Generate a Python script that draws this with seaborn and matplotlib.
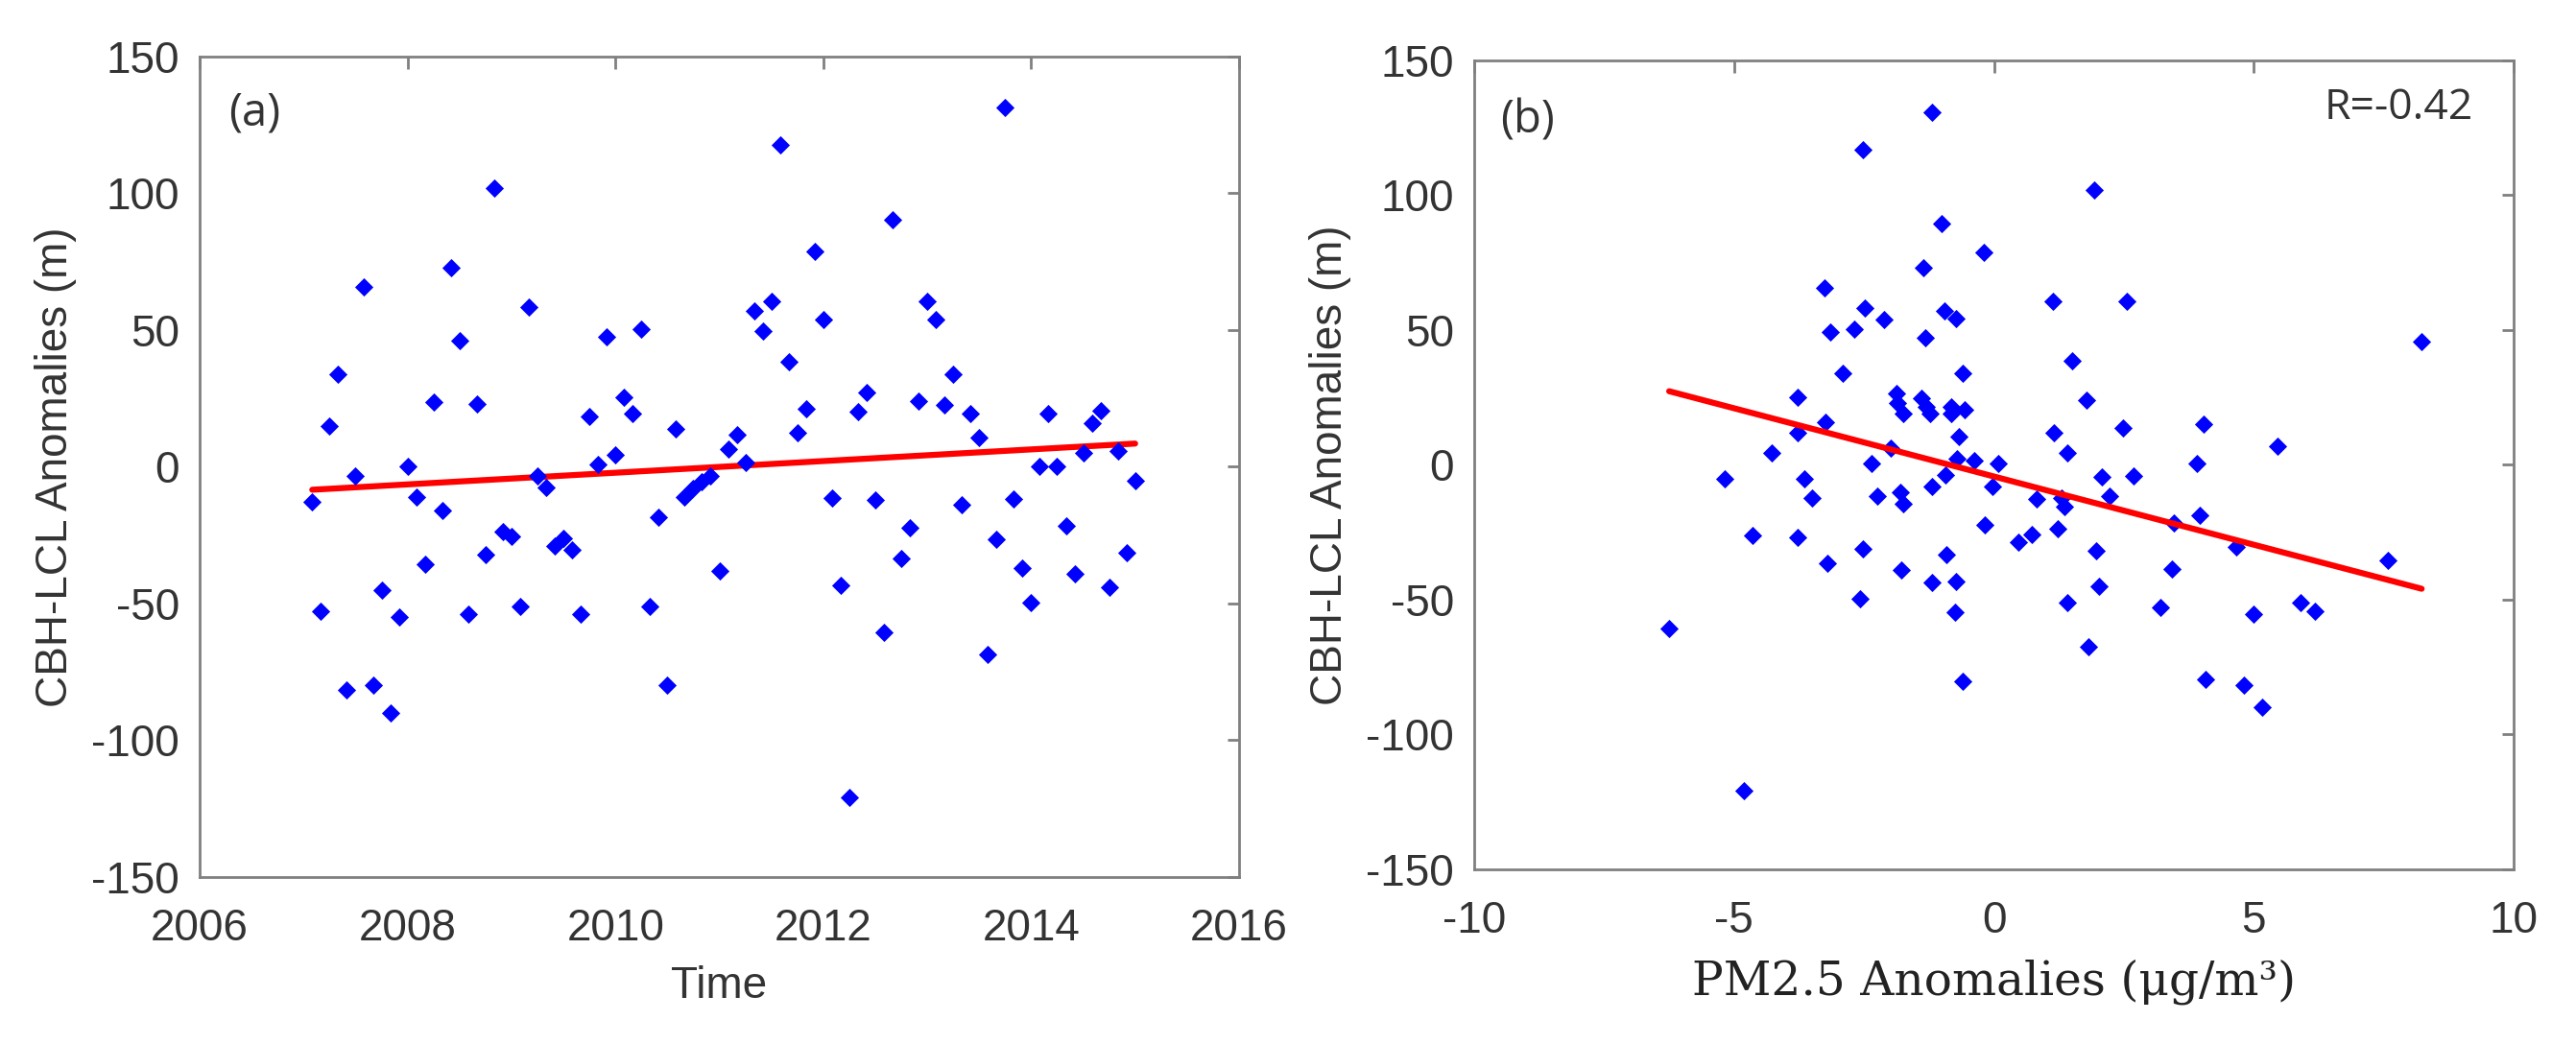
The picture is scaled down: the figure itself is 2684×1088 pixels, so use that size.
import matplotlib
matplotlib.use("Agg")
import numpy as np
import pandas as pd
import matplotlib.pyplot as plt
import seaborn as sns

# -------------------- Data --------------------
# (a) monthly CBH-LCL anomalies, Jan 2007 - Dec 2014
months = pd.date_range("2007-01-01", "2014-12-01", freq="MS")
cbh_a = [-13, -52.7, 15, 34, -81.6, -3.3, 65.8, -80, -45, -90, -55, 0,
         -11, -35.5, 23.7, -16, 72.8, 46, -54, 23, -32, 102, -23.6, -25.6,
         -51, 58.5, -3.5, -7.7, -29, -26, -30.5, -54, 18.5, 1, 47.5, 4.2,
         25.4, 19.6, 50.5, -51, -18.6, -80, 13.7, -11, -8, -5.4, -3.5, -38,
         6.4, 11.8, 1.6, 57, 49.7, 60.6, 117.8, 38.4, 12.3, 21.3, 78.9, 54,
         -11.4, -43.5, -121, 20, 27, -12, -60.5, 90.4, -33.7, -22.4, 24, 60.6,
         54, 22.7, 34, -14, 19.6, 10.8, -68.5, -26.4, 131.5, -11.6, -36.9, -49.8,
         0, 19.6, 0, -21.7, -39, 5, 16, 20.5, -44, 5.7, -31.4, -5]

# (b) CBH-LCL anomalies vs PM2.5 anomalies
pm25 = [-6.25, -5.19, -4.81, -4.64, -4.27, -3.78, -3.78, -3.78, -3.64, -3.5,
        -3.26, -3.24, -3.2, -3.15, -2.91, -2.69, -2.58, -2.53, -2.53, -2.48,
        -2.36, -2.25, -2.12, -1.98, -1.87, -1.86, -1.75, -1.80, -1.75, -1.79,
        -1.40, -1.33, -1.35, -1.31, -1.22, -1.2, -1.19, -1.2, -1.0, -0.95,
        -0.94, -0.92, -0.83, -0.83, -0.74, -0.73, -0.73, -0.68, -0.60, -0.57,
        -0.6, -0.71, -0.38, 0.08, -0.19, -0.18, -0.02, 0.47, 0.72, 0.82,
        1.14, 1.15, 1.23, 1.3, 1.36, 1.41, 1.42, 1.5, 1.79, 1.82,
        1.93, 1.96, 2.03, 2.07, 2.22, 2.48, 2.55, 2.69, 3.2, 3.43,
        3.46, 3.91, 3.96, 4.04, 4.08, 4.67, 4.81, 5.0, 5.16, 5.46,
        5.9, 6.17, 7.58, 8.23]
cbh_b = [-60.6, -5.3, -120.9, -26.1, 4.6, 25, 12, -27, -5.3, -12.2,
         65.7, 16, -36.5, 49.3, 34, 50.3, -49.6, -31.3, 116.9, 58.2,
         0.4, -11.5, 53.8, 6.3, 26.5, 22.9, 19.1, -10.2, -14.4, -39.1,
         24.6, 47, 73, 21.5, 19.1, 130.7, -7.9, -43.7, 89.6, 57,
         -3.7, -33.2, 21.5, 19.1, -54.8, 54.1, -43.2, 10.5, 34, 20.4,
         -80.3, 2.3, 1.6, 0.5, 79, -22.1, -7.9, -28.7, -25.7, -12.8,
         60.7, 12, -23.5, -12.4, -15.4, -51, 4.6, 38.5, 23.9, -67.6,
         102, -31.8, -45.2, -4.6, -11.5, 13.7, 60.5, -4.1, -53, -38.7,
         -21.4, 0.4, -18.7, 15.2, -79.6, -30.6, -81.8, -55.4, -89.9, 7.1,
         -50.9, -54.1, -35.5, 45.8]
r_text = "R=-0.42"
# fit line of panel (b) as drawn in the original (slope, intercept)
fit_b_slope = -5.06
fit_b_intercept = -4.3

year_ticks = [2006, 2008, 2010, 2012, 2014, 2016]
pm_ticks = [-10, -5, 0, 5, 10]
y_ticks = [-150, -100, -50, 0, 50, 100, 150]

# -------------------- Style --------------------
sns.set_style("white")
plt.rcParams["font.family"] = ["Liberation Sans", "DejaVu Sans"]
plt.rcParams["axes.unicode_minus"] = False

TXT = "#333333"
EDGE = "#808080"


def style_axes(ax):
    for sp in ax.spines.values():
        sp.set_visible(True)
        sp.set_color(EDGE)
        sp.set_linewidth(2)
    ax.tick_params(direction="in", length=9, width=2, color=EDGE,
                   top=True, right=True, labelsize=33, labelcolor=TXT)
    ax.tick_params(axis="x", pad=23)
    ax.tick_params(axis="y", pad=15)
    ax.set_ylim(-150, 150)
    ax.set_yticks(y_ticks, labels=[str(t) for t in y_ticks])
    ax.set_ylabel("CBH-LCL Anomalies (m)", fontsize=33, color=TXT)
    ax.yaxis.set_label_coords(-0.118, 0.5)


fig = plt.figure(figsize=(26.84, 10.88), dpi=100)
ax1 = fig.add_axes([0.0775, 0.160, 0.4035, 0.7858])
ax2 = fig.add_axes([0.5723, 0.1673, 0.4035, 0.7748])

# -------------------- (a) time series --------------------
df_a = pd.DataFrame({"Time": months.year + months.month / 12.0, "CBH": cbh_a})
sns.scatterplot(data=df_a, x="Time", y="CBH", marker="D", s=95,
                color="#0000ff", linewidth=0, ax=ax1, zorder=3)
sns.regplot(data=df_a, x="Time", y="CBH", scatter=False, ci=None,
            color="#ff0000", line_kws={"lw": 4.5, "zorder": 2}, ax=ax1)
style_axes(ax1)
ax1.set_xlim(2006, 2016)
ax1.set_xticks(year_ticks, labels=[str(t) for t in year_ticks])
ax1.set_xlabel("Time", fontsize=33, color=TXT)
ax1.xaxis.set_label_coords(0.5, -0.108)
ax1.text(0.028, 0.931, "(a)", transform=ax1.transAxes, ha="left", va="center",
         fontsize=34, family=["Open Sans", "DejaVu Sans"], color=TXT)

# -------------------- (b) scatter vs PM2.5 --------------------
df_b = pd.DataFrame({"PM25": pm25, "CBH": cbh_b})
sns.scatterplot(data=df_b, x="PM25", y="CBH", marker="D", s=95,
                color="#0000ff", linewidth=0, ax=ax2, zorder=3)
x_end = np.array([df_b["PM25"].min(), df_b["PM25"].max()])
fit_df = pd.DataFrame({"PM25": x_end, "CBH": fit_b_intercept + fit_b_slope * x_end})
sns.lineplot(data=fit_df, x="PM25", y="CBH", color="#ff0000", lw=4.5,
             ax=ax2, zorder=4)
style_axes(ax2)
ax2.set_xlim(-10, 10)
ax2.set_xticks(pm_ticks, labels=[str(t) for t in pm_ticks])
ax2.set_xlabel("PM2.5 Anomalies (μg/m³)", fontsize=35, color="#222222",
               family=["DejaVu Serif", "DejaVu Sans"])
ax2.xaxis.set_label_coords(0.5, -0.111)
ax2.text(0.025, 0.926, "(b)", transform=ax2.transAxes, ha="left", va="center",
         fontsize=34, family=["Open Sans", "DejaVu Sans"], color=TXT)
ax2.text(0.961, 0.941, r_text, transform=ax2.transAxes, ha="right", va="center",
         fontsize=32, family=["Open Sans", "DejaVu Sans"], color=TXT)

fig.savefig("out.png", dpi=100, facecolor="white")
